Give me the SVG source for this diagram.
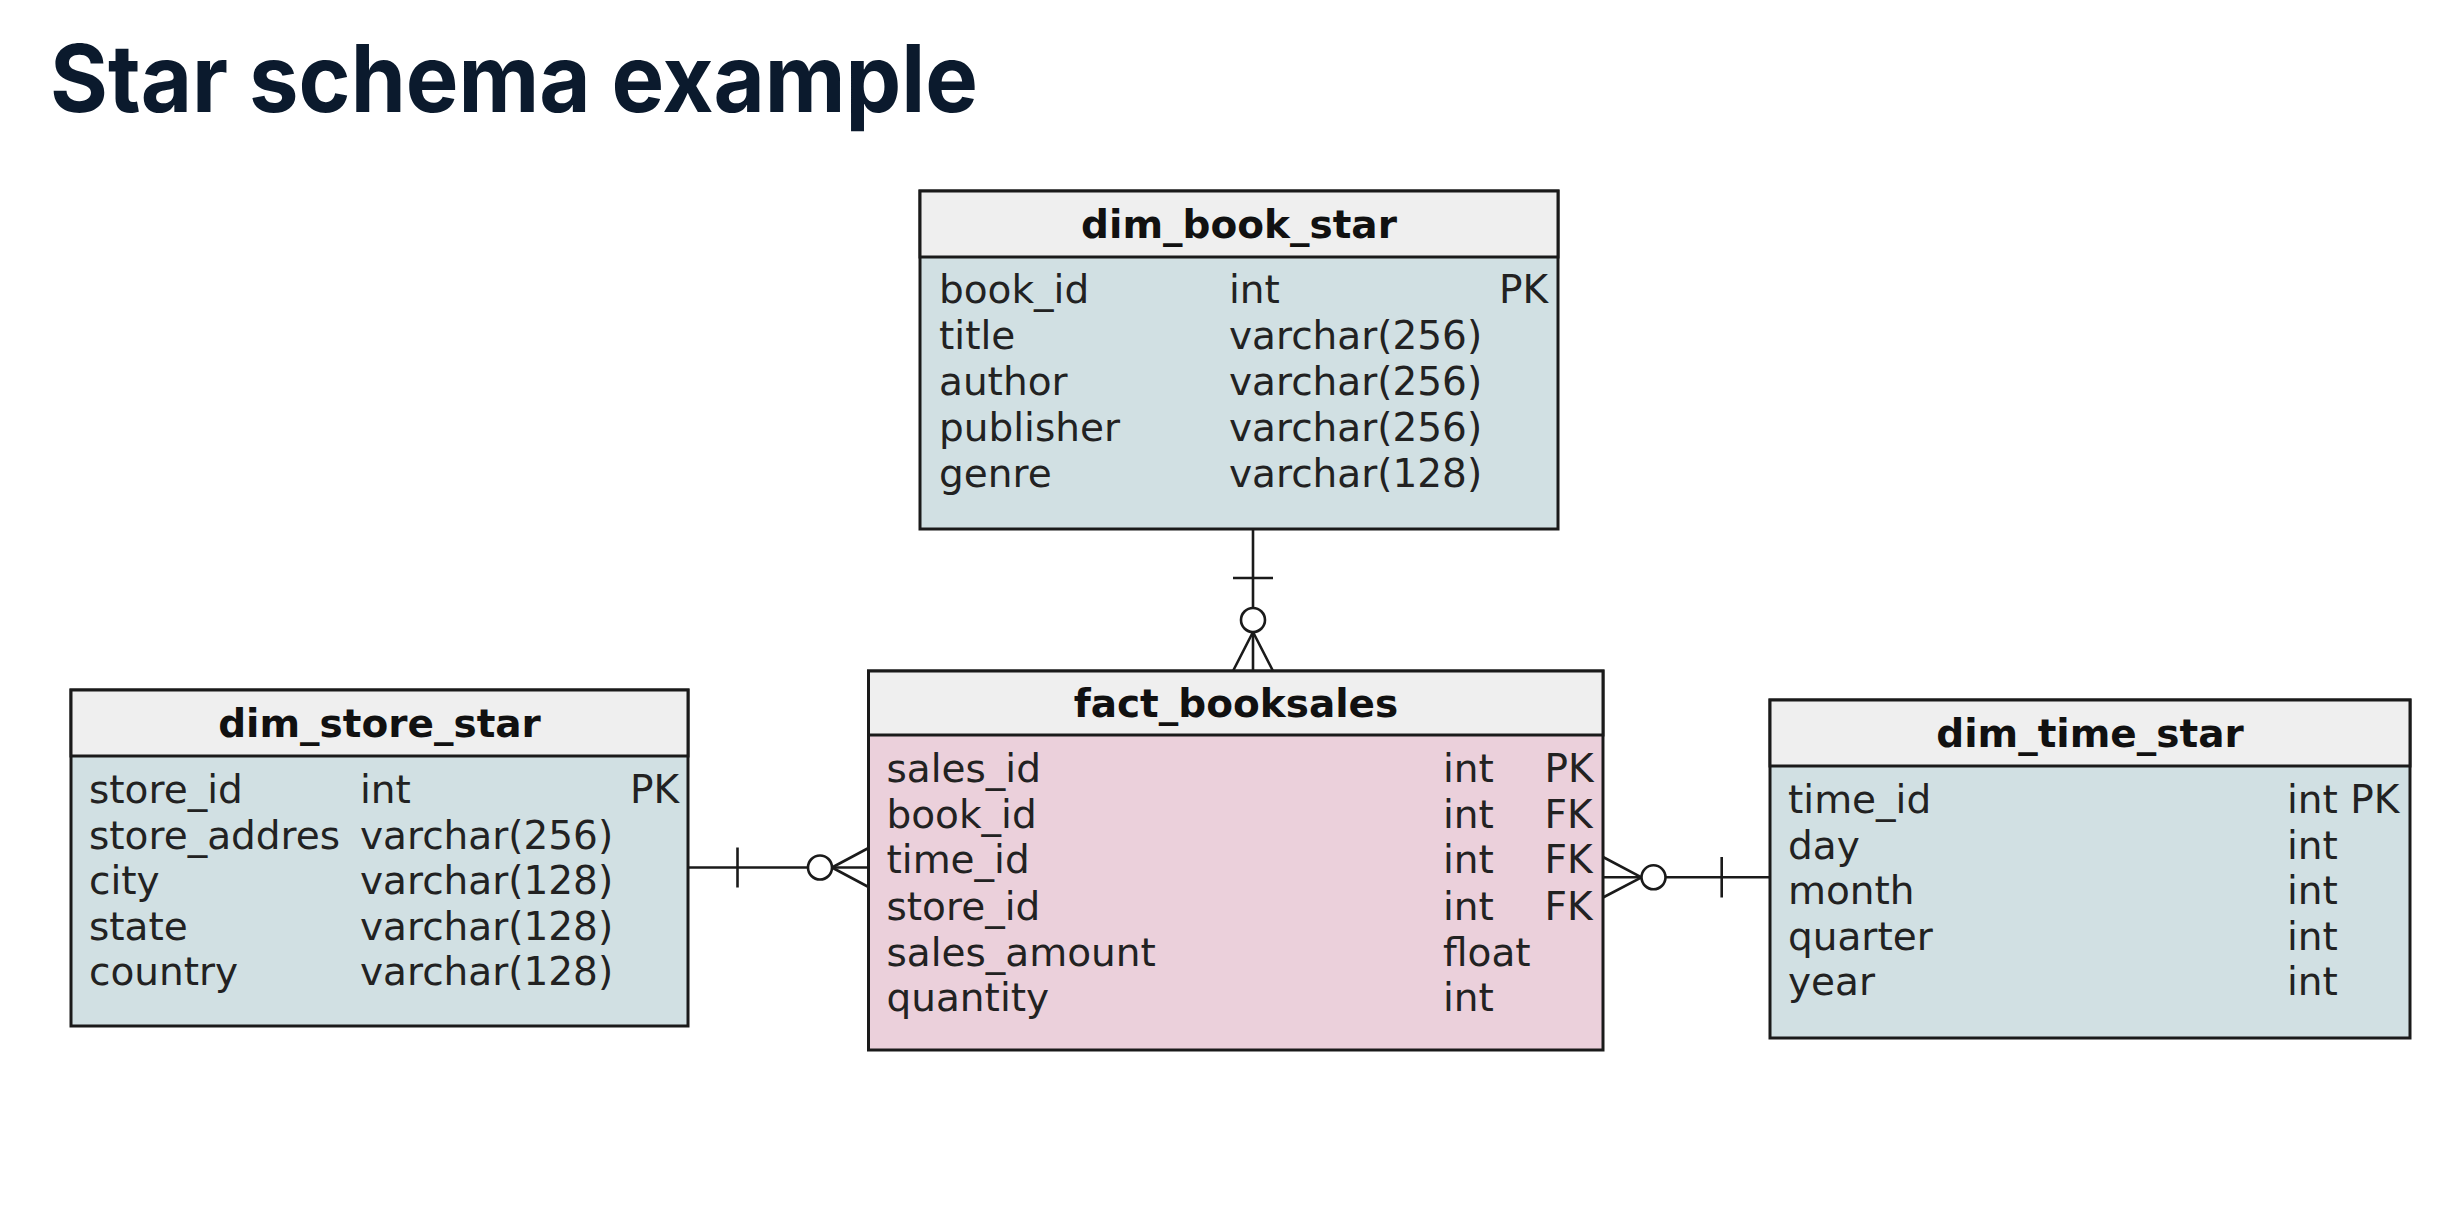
<svg xmlns="http://www.w3.org/2000/svg" width="2454" height="1224" viewBox="0 0 2454 1224">
<style>
.bg{fill:#ffffff}
.title{font-family:Inter,"Liberation Sans",sans-serif;font-weight:700;font-size:94px;fill:#0b1a2d}
.box{stroke:#1a1a1a;stroke-width:3}
.hdr{fill:#efefef}
.dim{fill:#d1e0e3}
.fact{fill:#ebd0db}
.sep{stroke:#1a1a1a;stroke-width:3}
.name{font-family:"DejaVu Sans","Liberation Sans",sans-serif;font-weight:700;font-size:39px;fill:#111;text-anchor:middle}
.col{font-family:"DejaVu Sans","Liberation Sans",sans-serif;font-size:39px;fill:#222}
.ln{stroke:#1a1a1a;stroke-width:2.6;fill:none}
.zero{stroke:#1a1a1a;stroke-width:2.6;fill:#ffffff}
</style>
<rect class="bg" x="0" y="0" width="2454" height="1224"/>
<text class="title" x="50" y="112" textLength="928" lengthAdjust="spacingAndGlyphs">Star schema example</text>

<g id="connectors">
  <g id="book-fact">
    <line class="ln" x1="1253" y1="529" x2="1253" y2="671"/>
    <line class="ln" x1="1233" y1="578" x2="1273" y2="578"/>
    <path class="ln" d="M1253,632 L1233,671 M1253,632 L1273,671"/>
    <circle class="zero" cx="1253" cy="620" r="12"/>
  </g>
  <g id="store-fact">
    <line class="ln" x1="688" y1="867.5" x2="868.5" y2="867.5"/>
    <line class="ln" x1="737.5" y1="847.5" x2="737.5" y2="887.5"/>
    <path class="ln" d="M832,867.5 L868.5,848 M832,867.5 L868.5,887"/>
    <circle class="zero" cx="820" cy="867.5" r="12"/>
  </g>
  <g id="time-fact">
    <line class="ln" x1="1603" y1="877.3" x2="1770" y2="877.3"/>
    <line class="ln" x1="1721.7" y1="857" x2="1721.7" y2="897.5"/>
    <path class="ln" d="M1641.5,877.3 L1603,857 M1641.5,877.3 L1603,897.5"/>
    <circle class="zero" cx="1653.5" cy="877.3" r="12"/>
  </g>
</g>

<g id="dim_book_star">
  <rect class="dim box" x="920" y="191" width="638" height="338"/>
  <rect class="hdr box" x="920" y="191" width="638" height="66"/>
  <text class="name" x="1239" y="238">dim_book_star</text>
  <text class="col" x="939" y="303">book_id</text>
  <text class="col" x="1229" y="303">int</text>
  <text class="col" x="1499" y="303">PK</text>
  <text class="col" x="939" y="349">title</text>
  <text class="col" x="1229" y="349">varchar(256)</text>
  <text class="col" x="939" y="395">author</text>
  <text class="col" x="1229" y="395">varchar(256)</text>
  <text class="col" x="939" y="441">publisher</text>
  <text class="col" x="1229" y="441">varchar(256)</text>
  <text class="col" x="939" y="487">genre</text>
  <text class="col" x="1229" y="487">varchar(128)</text>
</g>

<g id="dim_store_star">
  <rect class="dim box" x="71" y="690" width="617" height="336"/>
  <rect class="hdr box" x="71" y="690" width="617" height="66"/>
  <text class="name" x="379.5" y="737">dim_store_star</text>
  <text class="col" x="89" y="803">store_id</text>
  <text class="col" x="360" y="803">int</text>
  <text class="col" x="630" y="803">PK</text>
  <text class="col" x="89" y="848.5">store_addres</text>
  <text class="col" x="360" y="848.5">varchar(256)</text>
  <text class="col" x="89" y="894">city</text>
  <text class="col" x="360" y="894">varchar(128)</text>
  <text class="col" x="89" y="939.5">state</text>
  <text class="col" x="360" y="939.5">varchar(128)</text>
  <text class="col" x="89" y="985">country</text>
  <text class="col" x="360" y="985">varchar(128)</text>
</g>

<g id="fact_booksales">
  <rect class="fact box" x="868.5" y="671" width="734.5" height="379"/>
  <rect class="hdr box" x="868.5" y="671" width="734.5" height="64"/>
  <text class="name" x="1236" y="717">fact_booksales</text>
  <text class="col" x="886.5" y="782">sales_id</text>
  <text class="col" x="1443" y="782">int</text>
  <text class="col" x="1544.5" y="782">PK</text>
  <text class="col" x="886.5" y="827.7">book_id</text>
  <text class="col" x="1443" y="827.7">int</text>
  <text class="col" x="1544.5" y="827.7">FK</text>
  <text class="col" x="886.5" y="873.4">time_id</text>
  <text class="col" x="1443" y="873.4">int</text>
  <text class="col" x="1544.5" y="873.4">FK</text>
  <text class="col" x="886.5" y="919.6">store_id</text>
  <text class="col" x="1443" y="919.6">int</text>
  <text class="col" x="1544.5" y="919.6">FK</text>
  <text class="col" x="886.5" y="965.7">sales_amount</text>
  <text class="col" x="1443" y="965.7">float</text>
  <text class="col" x="886.5" y="1011">quantity</text>
  <text class="col" x="1443" y="1011">int</text>
</g>

<g id="dim_time_star">
  <rect class="dim box" x="1770" y="700" width="640" height="338"/>
  <rect class="hdr box" x="1770" y="700" width="640" height="66"/>
  <text class="name" x="2090" y="747">dim_time_star</text>
  <text class="col" x="1788" y="813">time_id</text>
  <text class="col" x="2287" y="813">int PK</text>
  <text class="col" x="1788" y="858.5">day</text>
  <text class="col" x="2287" y="858.5">int</text>
  <text class="col" x="1788" y="904">month</text>
  <text class="col" x="2287" y="904">int</text>
  <text class="col" x="1788" y="949.5">quarter</text>
  <text class="col" x="2287" y="949.5">int</text>
  <text class="col" x="1788" y="995">year</text>
  <text class="col" x="2287" y="995">int</text>
</g>
</svg>
